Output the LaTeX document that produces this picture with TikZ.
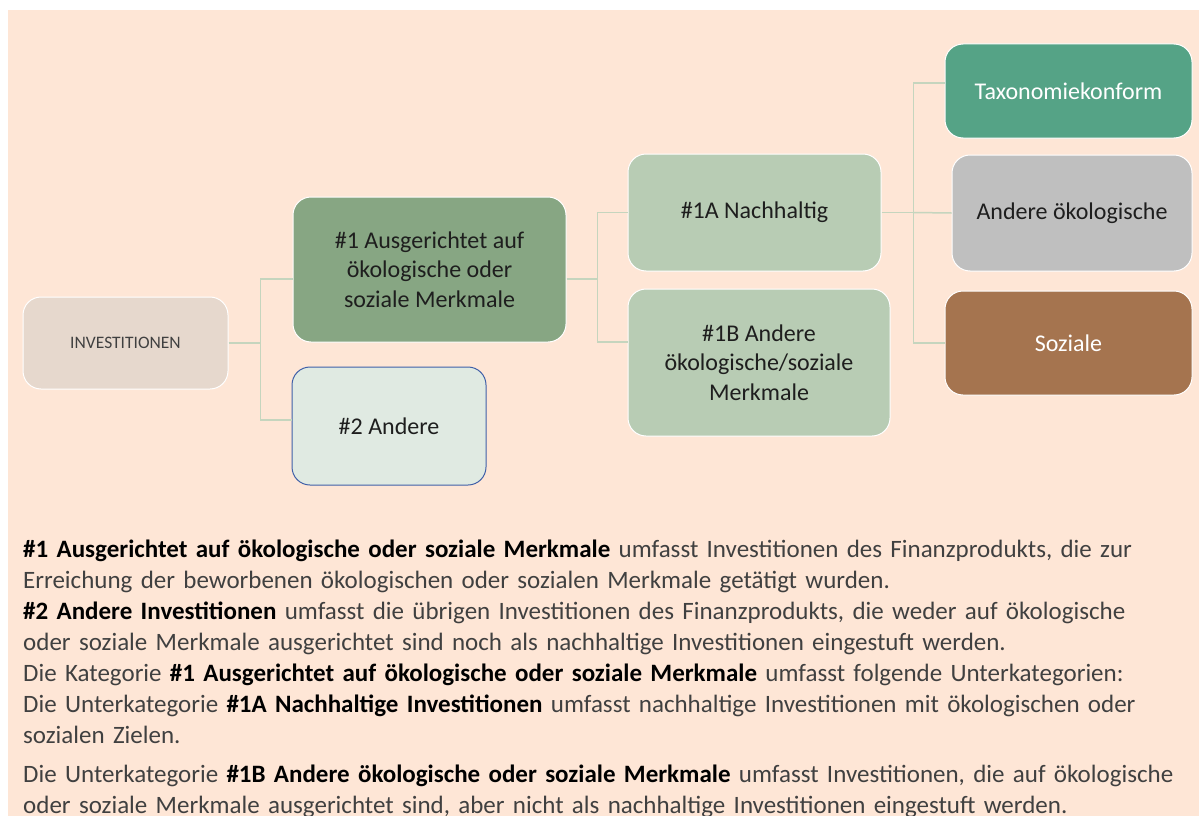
\documentclass[tikz,border=0pt]{standalone}
\usepackage{fontspec}
\setmainfont{Carlito}
\definecolor{bgpeach}{RGB}{254,230,214}
\definecolor{invfill}{RGB}{230,216,205}
\definecolor{catfill}{RGB}{135,166,131}
\definecolor{othfill}{RGB}{224,234,226}
\definecolor{othline}{RGB}{64,96,168}
\definecolor{subfill}{RGB}{184,204,180}
\definecolor{taxfill}{RGB}{85,163,134}
\definecolor{envfill}{RGB}{191,191,191}
\definecolor{socfill}{RGB}{165,116,79}
\definecolor{connline}{RGB}{197,213,190}
\definecolor{bodytext}{RGB}{64,64,64}
\definecolor{boxtext}{RGB}{30,30,30}
\newcommand{\fullline}[1]{\makebox[\linewidth][s]{#1}}
\tikzset{
  box/.style={rounded corners=18pt,draw=white,line width=1pt,align=center,inner sep=4pt,
    text=boxtext,font=\fontsize{24}{29.5}\selectfont},
  conn/.style={draw=connline,line width=1.5pt}
}
\begin{document}
\begin{tikzpicture}[x=1pt,y=-1pt]
\useasboundingbox (0,0) rectangle (1199,816);
\clip (0,0) rectangle (1199,816);
\fill[bgpeach] (8,10) rectangle (1199,816);
\node[box,fill=invfill,minimum width=205pt,minimum height=92pt,text=bodytext,font=\fontsize{17.5}{21}\selectfont] (inv) at (125.5,343) {INVESTITIONEN};
\node[box,fill=catfill,minimum width=273pt,minimum height=145pt] (cat1) at (429.5,269.5) {\#1 Ausgerichtet auf\\ökologische oder\\soziale Merkmale};
\node[box,fill=othfill,draw=othline,minimum width=194pt,minimum height=118pt] (cat2) at (389,426) {\#2 Andere};
\node[box,fill=subfill,minimum width=253pt,minimum height=117pt] (sub1a) at (754.5,212.5) {\#1A Nachhaltig};
\node[box,fill=subfill,minimum width=262pt,minimum height=147pt] (sub1b) at (759,362.5) {\#1B Andere\\ökologische/soziale\\Merkmale};
\node[box,fill=taxfill,minimum width=247pt,minimum height=94pt,text=white] (tax) at (1068.5,91) {Taxonomiekonform};
\node[box,fill=envfill,minimum width=240pt,minimum height=116pt] (env) at (1072,213) {Andere ökologische};
\node[box,fill=socfill,minimum width=247pt,minimum height=104pt,text=white] (soc) at (1068.5,343) {Soziale};
\draw[conn] (inv.east) -- ++(32,0) coordinate (j1) |- ([yshift=-9.5pt]cat1.west);
\draw[conn] (j1) |- ([yshift=6pt]cat2.west);
\draw[conn] ([yshift=-9.5pt]cat1.east) -- ++(31,0) coordinate (j2) |- (sub1a.west);
\draw[conn] (j2) |- ([yshift=20.5pt]sub1b.west);
\draw[conn] (sub1a.east) -- ++(32,0) coordinate (j3) |- ([yshift=8pt]tax.west);
\draw[conn] (j3) -- (env.west);
\draw[conn] (j3) |- (soc.west);
\node[anchor=base west,inner sep=0pt,text width=1157pt,align=left,text=bodytext,font=\fontsize{25}{31}\selectfont] (notes) at (23,557) {%
\fullline{\textcolor{black}{\textbf{\#1 Ausgerichtet auf ökologische oder soziale Merkmale}} umfasst Investitionen des Finanzprodukts, die zur}\\
Erreichung der beworbenen ökologischen oder sozialen Merkmale getätigt wurden.\\
\fullline{\textcolor{black}{\textbf{\#2 Andere Investitionen}} umfasst die übrigen Investitionen des Finanzprodukts, die weder auf ökologische}\\
oder soziale Merkmale ausgerichtet sind noch als nachhaltige Investitionen eingestuft werden.\\
Die Kategorie \textcolor{black}{\textbf{\#1 Ausgerichtet auf ökologische oder soziale Merkmale}} umfasst folgende Unterkategorien:\\
\fullline{Die Unterkategorie \textcolor{black}{\textbf{\#1A Nachhaltige Investitionen}} umfasst nachhaltige Investitionen mit ökologischen oder}\\
sozialen Zielen.\\[8pt]
\fullline{Die Unterkategorie \textcolor{black}{\textbf{\#1B Andere ökologische oder soziale Merkmale}} umfasst Investitionen, die auf ökologische}\\
oder soziale Merkmale ausgerichtet sind, aber nicht als nachhaltige Investitionen eingestuft werden.};
\end{tikzpicture}
\end{document}
